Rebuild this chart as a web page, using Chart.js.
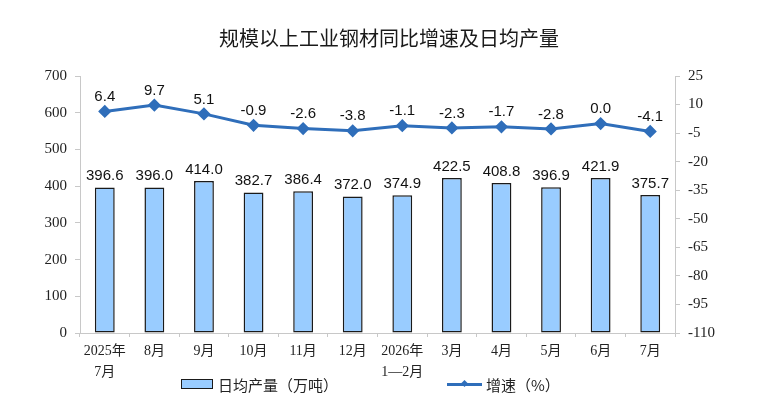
<!DOCTYPE html>
<html>
<head>
<meta charset="utf-8">
<script src="https://cdn.jsdelivr.net/npm/chart.js@4"></script>
<style>
    body { margin: 0; background: #fff; }
    #wrap { position: relative; width: 763px; height: 410px; }
    #title {
        position: absolute; left: 0; top: 25px; width: 778px; text-align: center;
        font-family: 'Noto Sans CJK SC', sans-serif; font-size: 20px; color: #1a1a1a;
        line-height: 26px;
    }
    .legend {
        position: absolute; top: 374px; height: 20px; display: flex; align-items: center;
        font-family: 'Noto Sans CJK SC', serif; font-size: 15px; color: #222;
    }
    .swatch-bar { width: 30px; height: 8px; background: #99CCFF; border: 1.5px solid #1a1a1a; margin-right: 5px; }
    .swatch-line { position: relative; width: 35px; height: 3px; background: #2F6EBA; margin-right: 4px; }
    .swatch-line span {
        position: absolute; left: 15px; top: -2px; width: 5px; height: 5px;
        background: #2F6EBA; transform: rotate(45deg);
    }
</style>
</head>
<body>
<div id="wrap">
    <canvas id="chart"></canvas>
    <div id="title">规模以上工业钢材同比增速及日均产量</div>
    <div class="legend" style="left:181px"><div class="swatch-bar"></div>日均产量（万吨）</div>
    <div class="legend" style="left:447px"><div class="swatch-line"><span></span></div>增速（%）</div>
</div>
<script>
const months = [['2025年', '7月'], '8月', '9月', '10月', '11月', '12月', ['2026年', '1—2月'], '3月', '4月', '5月', '6月', '7月'];
const dailyOutput = [396.6, 396.0, 414.0, 382.7, 386.4, 372.0, 374.9, 422.5, 408.8, 396.9, 421.9, 375.7];
const growthRate = [6.4, 9.7, 5.1, -0.9, -2.6, -3.8, -1.1, -2.3, -1.7, -2.8, 0.0, -4.1];

const colors = {
    bar: '#99CCFF',
    barBorder: '#1a1a1a',
    line: '#2F6EBA',
    axis: '#c8c8c8',
    text: '#222'
};

// labels above bars and points
const valueLabels = {
    id: 'valueLabels',
    afterDatasetsDraw(chart) {
        const ctx = chart.ctx;
        ctx.save();
        ctx.font = '15px "Liberation Sans", Arial, sans-serif';
        ctx.fillStyle = '#111';
        ctx.textAlign = 'center';
        ctx.textBaseline = 'bottom';
        chart.data.datasets.forEach((ds, i) => {
            const meta = chart.getDatasetMeta(i);
            const gap = ds.type === 'line' ? 7 : 4;
            meta.data.forEach((el, j) => {
                ctx.fillText(ds.data[j].toFixed(1), el.x, el.y - gap);
            });
        });
        ctx.restore();
    }
};

const yFont = { family: '"Liberation Serif", serif', size: 15 };
const xFont = { family: '"Liberation Serif", "Noto Sans CJK SC", serif', size: 14, lineHeight: 1.5 };

new Chart(document.getElementById('chart'), {
    data: {
        labels: months,
        datasets: [{
            type: 'line',
            label: '增速（%）',
            data: growthRate,
            yAxisID: 'y1',
            borderColor: colors.line,
            backgroundColor: colors.line,
            borderWidth: 3,
            pointStyle: 'rectRot',
            pointRadius: 4.5,
            pointHoverRadius: 4.5,
            tension: 0,
            order: 1
        }, {
            type: 'bar',
            label: '日均产量（万吨）',
            data: dailyOutput,
            yAxisID: 'y',
            backgroundColor: colors.bar,
            borderColor: colors.barBorder,
            borderWidth: 1.5,
            borderSkipped: false,
            barPercentage: 0.8,
            categoryPercentage: 0.5,
            order: 2
        }]
    },
    options: {
        responsive: true,
        maintainAspectRatio: false,
        animation: false,
        layout: { padding: { top: 76, left: 0, right: 0, bottom: 0 } },
        plugins: {
            legend: { display: false },
            tooltip: { enabled: false }
        },
        scales: {
            x: {
                grid: { offset: true, drawOnChartArea: false, tickLength: 4, color: colors.axis },
                border: { color: colors.axis },
                ticks: { font: xFont, color: colors.text, padding: 4, maxRotation: 0 },
                afterFit: s => { s.height = 77; }
            },
            y: {
                position: 'left',
                min: 0, max: 700,
                grid: { drawOnChartArea: false, tickLength: 5, color: colors.axis },
                border: { color: colors.axis },
                ticks: { stepSize: 100, font: yFont, color: colors.text, padding: 8 },
                afterFit: s => { s.width = 80; }
            },
            y1: {
                position: 'right',
                min: -110, max: 25,
                grid: { drawOnChartArea: false, tickLength: 5, color: colors.axis },
                border: { color: colors.axis },
                ticks: { stepSize: 15, font: yFont, color: colors.text, padding: 8 },
                afterFit: s => { s.width = 88; }
            }
        }
    },
    plugins: [valueLabels]
});
</script>
</body>
</html>
